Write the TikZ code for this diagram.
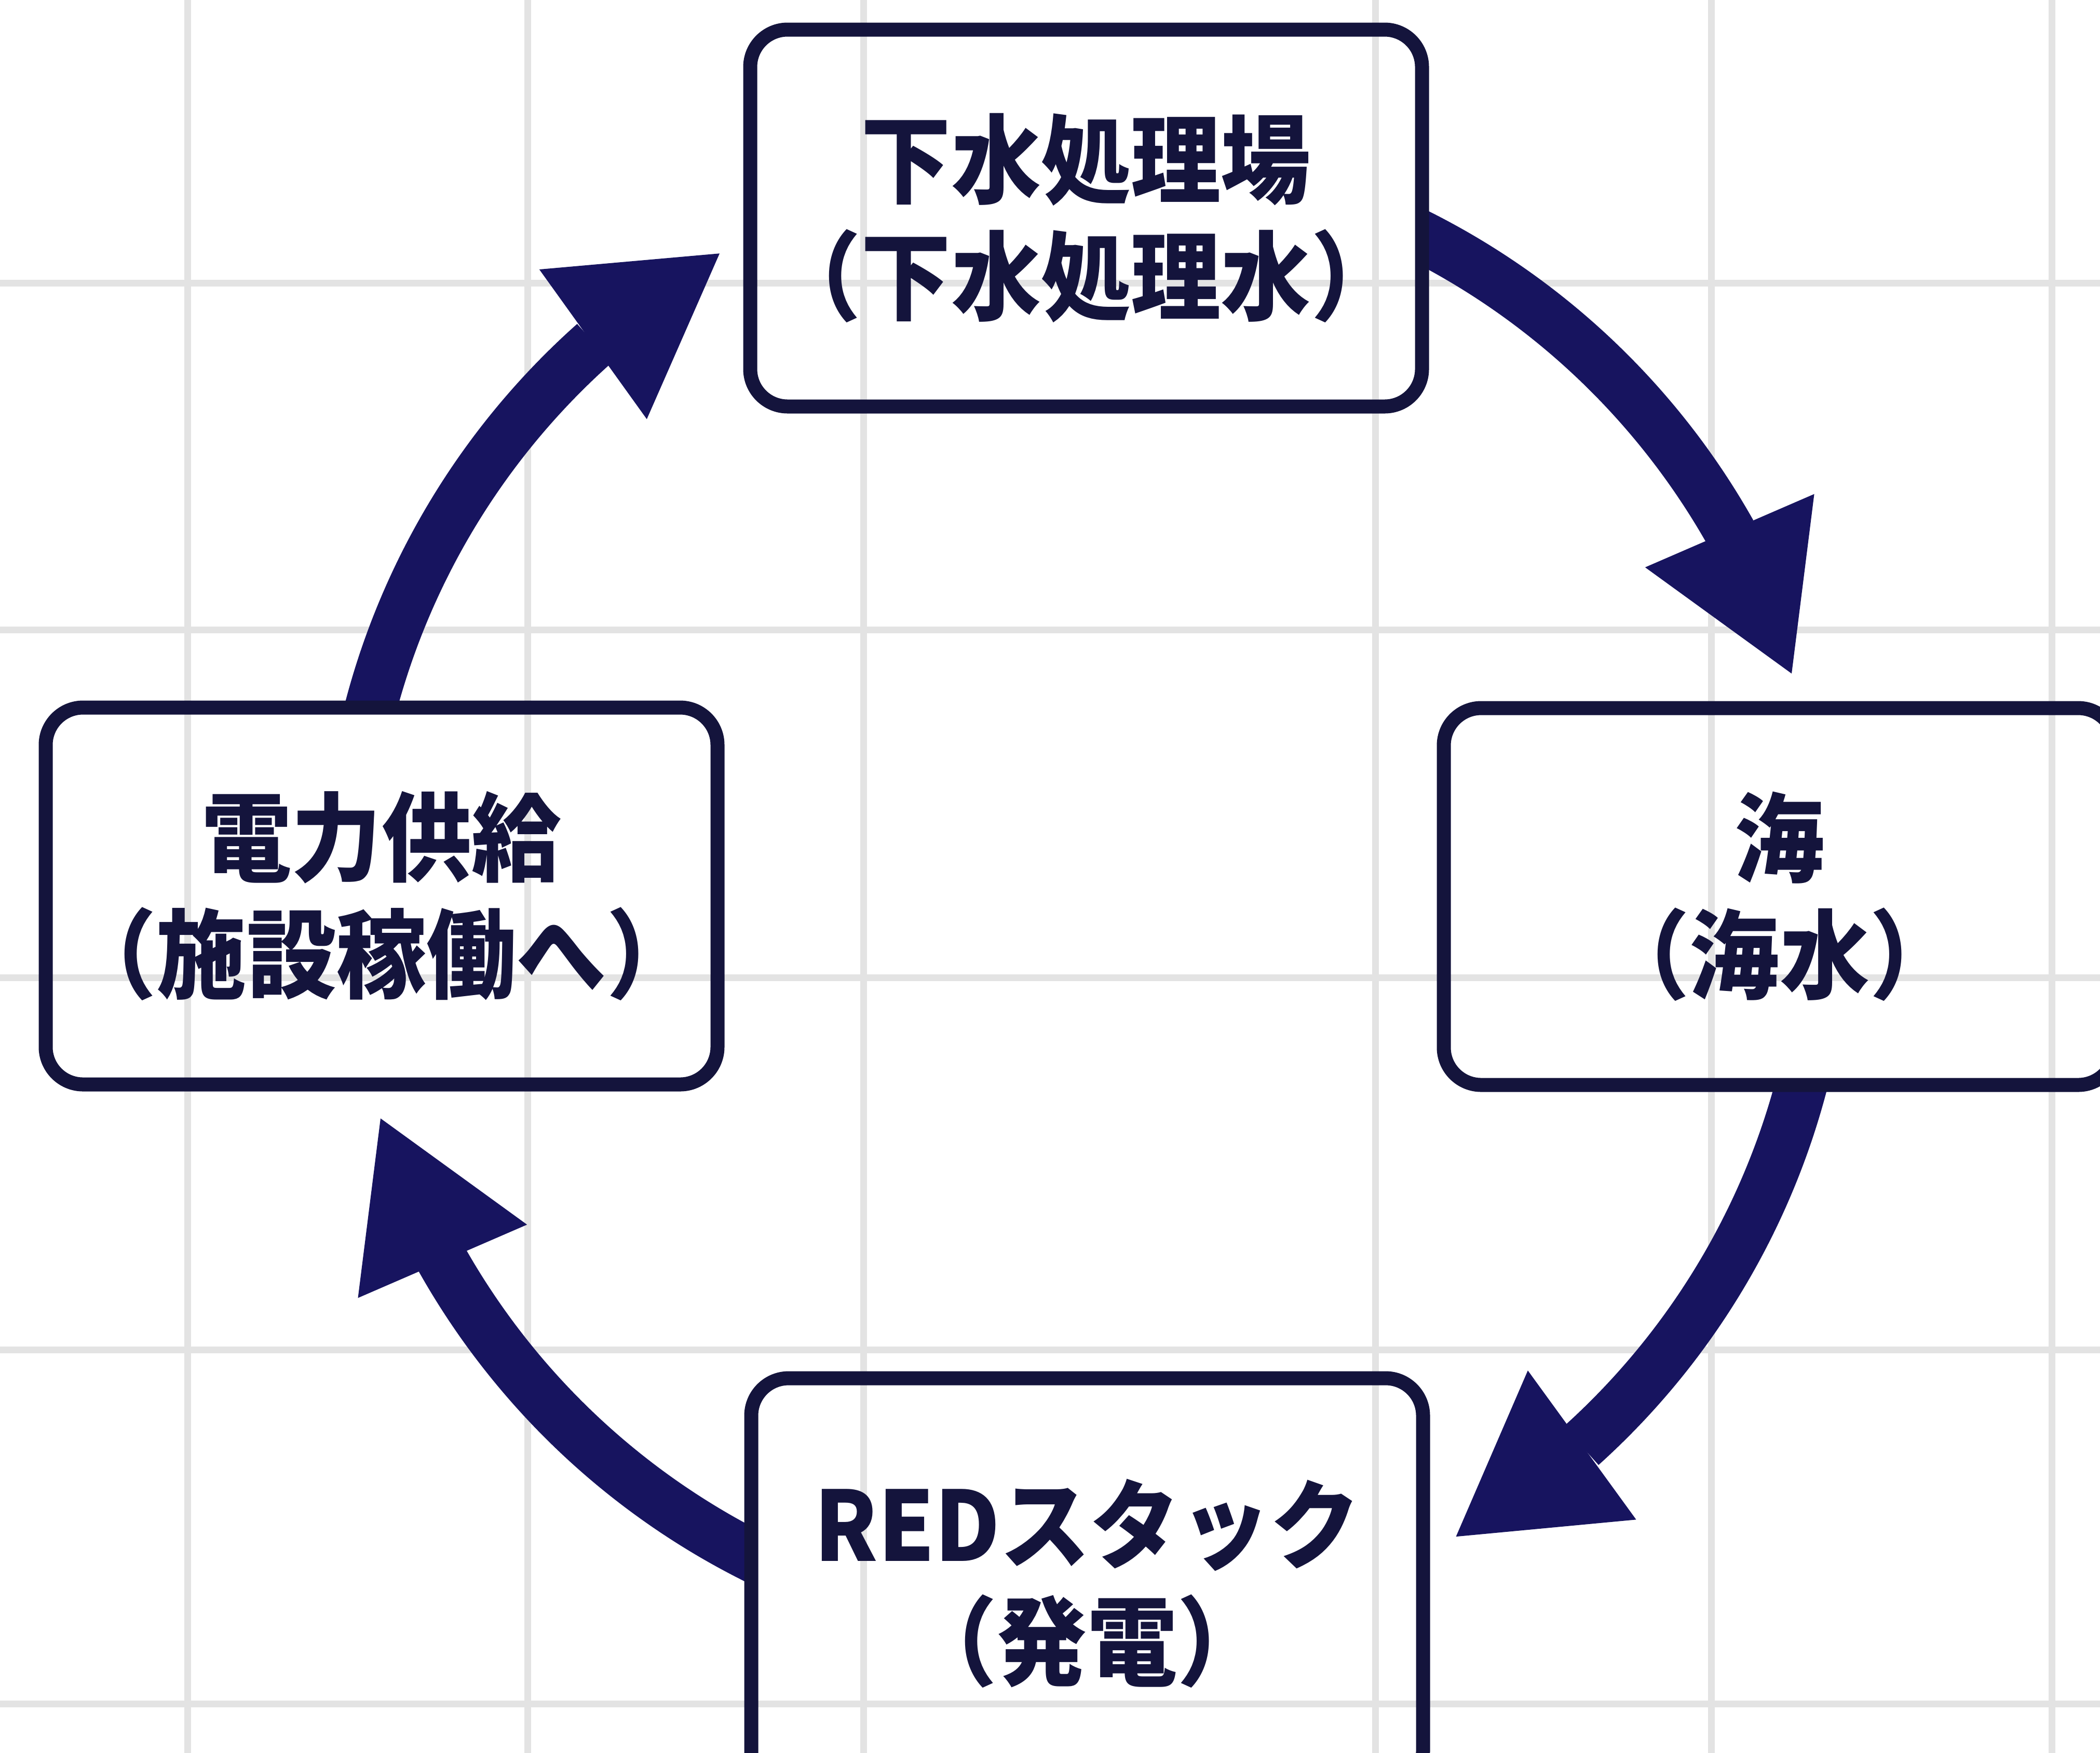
\documentclass[tikz,border=0pt]{standalone}
\usepackage{fontspec}
\newfontfamily\jpfont{Noto Sans CJK JP}[FakeStretch=0.93]
\usetikzlibrary{arrows.meta,bending}
\definecolor{arrowblue}{HTML}{17145F}
\definecolor{boxline}{HTML}{14143C}
\definecolor{gridgray}{HTML}{E3E3E3}
\pgfdeclarelayer{bg}
\pgfdeclarelayer{mid}
\pgfsetlayers{bg,mid,main}
\newcommand\mygrid{%
  \foreach \gx in {3.61,10.16,16.63,26.49,32.96,39.52}
    \draw[gridline] (\gx,0.2) -- (\gx,-34);
  \foreach \gy in {5.45,12.13,18.83,26.00,32.82}
    \draw[gridline] (-0.2,-\gy) -- (40.7,-\gy);
}
\begin{document}
\begin{tikzpicture}[
  gridline/.style={draw=gridgray, line width=0.13cm},
  stagebox/.style={draw=boxline, line width=0.27cm, rounded corners=0.72cm,
    minimum width=12.94cm, minimum height=7.26cm, outer sep=0pt, inner sep=0pt,
    align=center, text=boxline,
    font=\jpfont\bfseries\fontsize{53}{64}\selectfont},
  flow/.style={draw=arrowblue, line width=1cm,
    -{Triangle[length=3cm 0 0, width=3.55cm 0 0, line width=0pt]}}
]
\useasboundingbox (0,0) rectangle (40.45,-33.76);

% boxes
\node[stagebox] (plant) at (20.92,-4.20) {下水処理場\\（下水処理水）};
\node[stagebox] (sea)   at (34.28,-17.27) {海\\（海水）};
\node[stagebox, minimum height=7.9cm] (stack) at (20.94,-30.50) {REDスタック\\（発電）};
\node[stagebox] (power) at (7.35,-17.26) {電力供給\\（施設稼働へ）};

\coordinate (c) at (20.92,-17.26);
\coordinate (a1s) at ([shift={(c)}]66:14.25);
\coordinate (a2s) at ([shift={(c)}]-12:14.25);
\coordinate (a3s) at ([shift={(c)}]-114:14.25);
\coordinate (a4s) at ([shift={(c)}]168:14.25);

\begin{pgfonlayer}{bg}
  \fill[white] (-0.2,0.2) rectangle (40.7,-34);
  \mygrid
  \draw[flow] (a1s) arc[start angle=66, end angle=17.5, radius=14.25];
  \draw[flow] (a2s) arc[start angle=-12, end angle=-60, radius=14.25];
  \draw[flow] (a3s) arc[start angle=-114, end angle=-162.5, radius=14.25];
  \draw[flow] (a4s) arc[start angle=168, end angle=119.7, radius=14.25];
\end{pgfonlayer}

\begin{pgfonlayer}{mid}
  \foreach \n in {plant,sea,stack,power} {
    \fill[white, rounded corners=0.72cm] (\n.south west) rectangle (\n.north east);
    \begin{scope}
      \clip[rounded corners=0.72cm] (\n.south west) rectangle (\n.north east);
      \mygrid
    \end{scope}
  }
\end{pgfonlayer}
\end{tikzpicture}
\end{document}
